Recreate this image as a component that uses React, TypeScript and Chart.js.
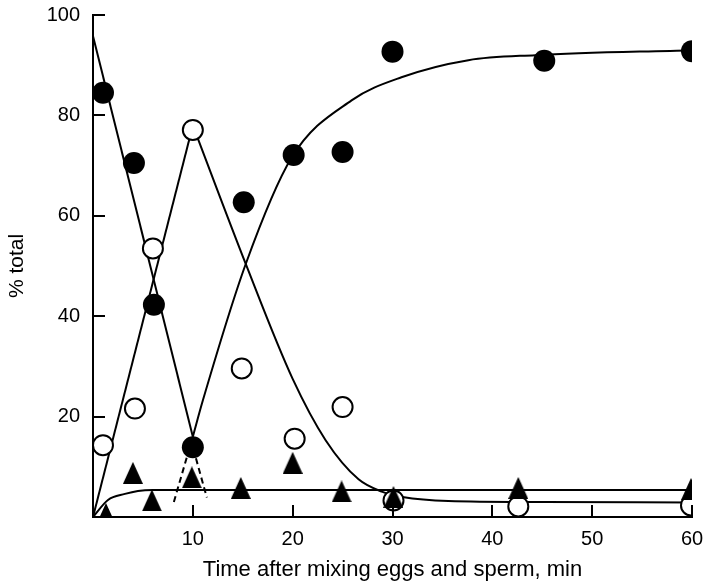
import React, { useEffect, useRef } from "react";
import { Chart, registerables } from "chart.js";

Chart.register(...registerables);

// Measured points
const filledX = [1.0, 4.1, 6.1, 10.0, 15.1, 20.1, 25.0, 30.0, 45.2, 60.0];
const filledY = [84.5, 70.5, 42.3, 13.9, 62.7, 72.1, 72.7, 92.7, 90.9, 92.8];

const openX = [1.0, 4.2, 6.0, 10.0, 14.9, 20.2, 25.0, 30.1, 42.6, 59.9];
const openY = [14.3, 21.6, 53.5, 77.1, 29.6, 15.6, 21.9, 3.3, 2.1, 2.3];

const triX = [1.3, 4.0, 5.9, 9.9, 14.8, 20.0, 24.9, 30.1, 42.6, 59.9];
const triY = [0.6, 8.8, 3.3, 7.9, 5.8, 10.8, 5.1, 4.0, 5.8, 5.6];

// Fitted curves
const dropX = [0, 10];
const dropY = [95.8, 16];

const riseX = [0, 10];
const riseY = [0, 78];

const fallX = [10, 15.3, 20, 23.3, 26.6, 29, 31, 35.6, 45, 60];
const fallY = [78, 50.4, 27.5, 15.3, 7.5, 5, 4, 3.2, 3.0, 2.9];

const sigX = [10, 11, 15.3, 19.9, 25.9, 30.9, 37.6, 44.3, 60];
const sigY = [16, 23.2, 50.4, 71.6, 83, 87.6, 91, 92, 93];

const triLineX = [0, 1.5, 3.2, 4.5, 6, 60];
const triLineY = [0, 3.4, 4.6, 5.2, 5.4, 5.4];

const spikeX = [8.1, 9.85, 11.4];
const spikeY = [3, 15, 3.9];

const xTickValues = [10, 20, 30, 40, 50, 60];
const yTickValues = [20, 40, 60, 80, 100];

const xTitle = "Time after mixing eggs and sperm, min";
const yTitle = "% total";

const FONT = "'Liberation Sans', Arial, Helvetica, sans-serif";

function pts(xs: number[], ys: number[]) {
  return xs.map((x, i) => ({ x, y: ys[i] }));
}

function makeTriangle(): HTMLCanvasElement {
  const c = document.createElement("canvas");
  c.width = 20;
  c.height = 22;
  const g = c.getContext("2d")!;
  g.fillStyle = "#000";
  g.beginPath();
  g.moveTo(10, 0);
  g.lineTo(20, 22);
  g.lineTo(0, 22);
  g.closePath();
  g.fill();
  return c;
}

const inwardTicks = {
  id: "inwardTicks",
  afterDraw(chart: any) {
    const { ctx, chartArea, scales } = chart;
    ctx.save();
    ctx.strokeStyle = "#000";
    ctx.lineWidth = 2;
    ctx.beginPath();
    xTickValues.forEach((v) => {
      const px = Math.round(scales.x.getPixelForValue(v));
      ctx.moveTo(px, chartArea.bottom);
      ctx.lineTo(px, chartArea.bottom - 12);
    });
    yTickValues.forEach((v) => {
      const py = Math.round(scales.y.getPixelForValue(v));
      ctx.moveTo(chartArea.left, py);
      ctx.lineTo(chartArea.left + 12, py);
    });
    ctx.stroke();
    ctx.restore();
  },
};

export default function App() {
  const ref = useRef<HTMLCanvasElement>(null);

  useEffect(() => {
    document.body.style.margin = "0";
    const tri = makeTriangle();
    const lineBase = {
      type: "line" as const,
      borderColor: "#000",
      borderWidth: 2,
      pointRadius: 0,
      fill: false,
    };
    const chart = new Chart(ref.current!, {
      type: "scatter",
      data: {
        datasets: [
          {
            label: "triangles",
            data: pts(triX, triY),
            pointStyle: tri as any,
            pointRadius: 10,
            backgroundColor: "#000",
            borderColor: "#000",
            clip: 0,
          } as any,
          {
            label: "filled",
            data: pts(filledX, filledY),
            pointStyle: "circle",
            pointRadius: 11,
            pointBorderWidth: 0,
            backgroundColor: "#000",
            borderColor: "#000",
          },
          {
            label: "open",
            data: pts(openX, openY),
            pointStyle: "circle",
            pointRadius: 10,
            pointBorderWidth: 2,
            backgroundColor: "#fff",
            borderColor: "#000",
          },
          { ...lineBase, label: "drop", data: pts(dropX, dropY), tension: 0 },
          { ...lineBase, label: "rise", data: pts(riseX, riseY), tension: 0 },
          { ...lineBase, label: "fall", data: pts(fallX, fallY), cubicInterpolationMode: "monotone" },
          { ...lineBase, label: "sig", data: pts(sigX, sigY), cubicInterpolationMode: "monotone" },
          { ...lineBase, label: "triline", data: pts(triLineX, triLineY), cubicInterpolationMode: "monotone" },
          { ...lineBase, label: "spike", data: pts(spikeX, spikeY), tension: 0, borderDash: [6, 4] },
        ] as any,
      },
      options: {
        animation: false,
        responsive: false,
        events: [],
        layout: { padding: { top: 15, right: 15, left: 0, bottom: 0 } },
        plugins: { legend: { display: false }, tooltip: { enabled: false } },
        scales: {
          x: {
            type: "linear",
            min: 0,
            max: 60,
            afterFit: (s: any) => {
              s.height = 68;
              s.paddingLeft = 0;
              s.paddingRight = 0;
            },
            grid: { display: false, drawTicks: false },
            border: { display: true, color: "#000", width: 2 },
            ticks: {
              stepSize: 10,
              autoSkip: false,
              maxRotation: 0,
              padding: 10,
              color: "#000",
              font: { family: FONT, size: 20 },
              callback: (v: any) => (v === 0 ? "" : String(v)),
            },
            title: {
              display: true,
              text: xTitle,
              color: "#000",
              font: { family: FONT, size: 22 },
              padding: { top: 0, bottom: 2 },
            },
          },
          y: {
            type: "linear",
            min: 0,
            max: 100,
            afterFit: (s: any) => {
              s.width = 93;
              s.paddingTop = 0;
              s.paddingBottom = 0;
            },
            grid: { display: false, drawTicks: false },
            border: { display: true, color: "#000", width: 2 },
            ticks: {
              stepSize: 20,
              autoSkip: false,
              padding: 13,
              color: "#000",
              font: { family: FONT, size: 20 },
              callback: (v: any) => (v === 0 ? "" : String(v)),
            },
            title: {
              display: true,
              text: yTitle,
              color: "#000",
              font: { family: FONT, size: 21 },
              padding: { top: 5, bottom: 0 },
            },
          },
        },
      },
      plugins: [inwardTicks],
    });
    return () => chart.destroy();
  }, []);

  return (
    <div style={{ width: 707, height: 585, background: "#fff" }}>
      <canvas ref={ref} width={707} height={585} style={{ width: 707, height: 585, display: "block" }} />
    </div>
  );
}
